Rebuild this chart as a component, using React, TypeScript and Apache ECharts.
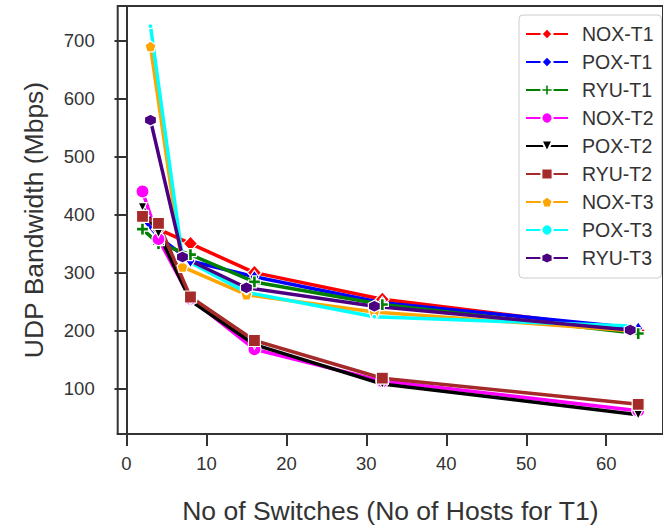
import React, { useEffect, useRef } from "react";
import * as echarts from "echarts";

const xT12 = [2, 4, 8, 16, 32, 64];
const xT3 = [3, 7, 15, 31, 63];

const noxT1 = [398, 375, 350, 300, 254, 200];
const poxT1 = [394, 362, 320, 293, 248, 204];
const ryuT1 = [375, 350, 331, 284, 245, 195];
const noxT2 = [440, 358, 255, 168, 113, 62];
const poxT2 = [413, 368, 252, 176, 108, 55];
const ryuT2 = [397, 385, 258, 183, 118, 73];
const noxT3 = [690, 310, 262, 232, 200];
const poxT3 = [725, 325, 266, 224, 208];
const ryuT3 = [563, 327, 274, 242, 201];

const xTicks = [0, 10, 20, 30, 40, 50, 60];
const yTicks = [100, 200, 300, 400, 500, 600, 700];

const PLUS = "path://M3.4,0H6.6V3.4H10V6.6H6.6V10H3.4V6.6H0V3.4H3.4Z";
const PENT = "path://M50,0L97.6,34.5L79.4,90.5L20.6,90.5L2.4,34.5Z";
const HEX = "path://M50,0L93.3,25L93.3,75L50,100L6.7,75L6.7,25Z";

const zip = (xs: number[], ys: number[]) => xs.map((x, i) => [x, ys[i]]);

const seriesDefs = [
  { name: "NOX-T1", xs: xT12, ys: noxT1, color: "#ff0000", symbol: "diamond", size: [14, 15] as any, rot: 0 },
  { name: "POX-T1", xs: xT12, ys: poxT1, color: "#0000ff", symbol: "diamond", size: [9, 13] as any, rot: 0 },
  { name: "RYU-T1", xs: xT12, ys: ryuT1, color: "#008000", symbol: PLUS, size: 12 as any, rot: 0 },
  { name: "NOX-T2", xs: xT12, ys: noxT2, color: "#ff00ff", symbol: "circle", size: 13 as any, rot: 0 },
  { name: "POX-T2", xs: xT12, ys: poxT2, color: "#000000", symbol: "triangle", size: 9 as any, rot: 180 },
  { name: "RYU-T2", xs: xT12, ys: ryuT2, color: "#a52a2a", symbol: "rect", size: 12 as any, rot: 0 },
  { name: "NOX-T3", xs: xT3, ys: noxT3, color: "#ffa500", symbol: PENT, size: 11 as any, rot: 0 },
  { name: "POX-T3", xs: xT3, ys: poxT3, color: "#00ffff", symbol: "circle", size: 5 as any, rot: 0 },
  { name: "RYU-T3", xs: xT3, ys: ryuT3, color: "#4b0082", symbol: HEX, size: 12 as any, rot: 0 },
];

export default function App() {
  const ref = useRef<HTMLDivElement>(null);
  useEffect(() => {
    if (!ref.current) return;
    const chart = echarts.init(ref.current, null, { renderer: "svg" });
    const font = "'Liberation Sans', Arial, sans-serif";
    chart.setOption({
      animation: false,
      backgroundColor: "#ffffff",
      grid: {
        left: 117.7,
        top: 6,
        right: -9,
        bottom: 90.7,
        show: true,
        borderColor: "#333333",
        borderWidth: 2,
      },
      legend: {
        left: 519,
        top: 15,
        orient: "vertical",
        itemWidth: 42,
        itemHeight: 14,
        itemGap: 8,
        padding: [9, 8, 10, 6],
        borderColor: "#cccccc",
        borderWidth: 1,
        borderRadius: 4,
        backgroundColor: "#ffffff",
        textStyle: { fontSize: 19.5, color: "#333333", fontFamily: font, padding: [0, 0, 0, 9] },
        data: seriesDefs.map((s) => s.name),
      },
      xAxis: {
        type: "value",
        min: -1.1,
        max: 67.1,
        name: "No of Switches (No of Hosts for T1)",
        nameLocation: "middle",
        nameGap: 63,
        nameTextStyle: { fontSize: 26.5, color: "#333333", fontFamily: font },
        axisLine: { show: true, lineStyle: { color: "#333333", width: 2 } },
        axisTick: { show: true, customValues: xTicks, length: 12, lineStyle: { color: "#333333", width: 2 } },
        axisLabel: { customValues: xTicks, margin: 20, fontSize: 18.5, color: "#333333", fontFamily: font },
        splitLine: { show: false },
      },
      yAxis: {
        type: "value",
        min: 21.8,
        max: 759.7,
        name: "UDP Bandwidth (Mbps)",
        nameLocation: "middle",
        nameGap: 70,
        nameRotate: 90,
        nameTextStyle: { fontSize: 26.5, color: "#333333", fontFamily: font },
        axisLine: { show: true, lineStyle: { color: "#333333", width: 2 } },
        axisTick: { show: true, customValues: yTicks, length: 12, lineStyle: { color: "#333333", width: 2 } },
        axisLabel: { customValues: yTicks, margin: 23, fontSize: 18.5, color: "#333333", fontFamily: font },
        splitLine: { show: false },
      },
      series: seriesDefs.map((s) => ({
        name: s.name,
        type: "line",
        data: zip(s.xs, s.ys),
        symbol: s.symbol,
        symbolSize: s.size,
        symbolRotate: s.rot,
        showSymbol: true,
        lineStyle: { color: s.color, width: 3.5 },
        itemStyle: { color: s.color, borderColor: "#ffffff", borderWidth: 1.2 },
        emphasis: { disabled: true },
      })),
    });
    return () => chart.dispose();
  }, []);
  return (
    <div
      ref={ref}
      style={{ position: "absolute", left: 0, top: 0, width: 663, height: 529 }}
    />
  );
}
